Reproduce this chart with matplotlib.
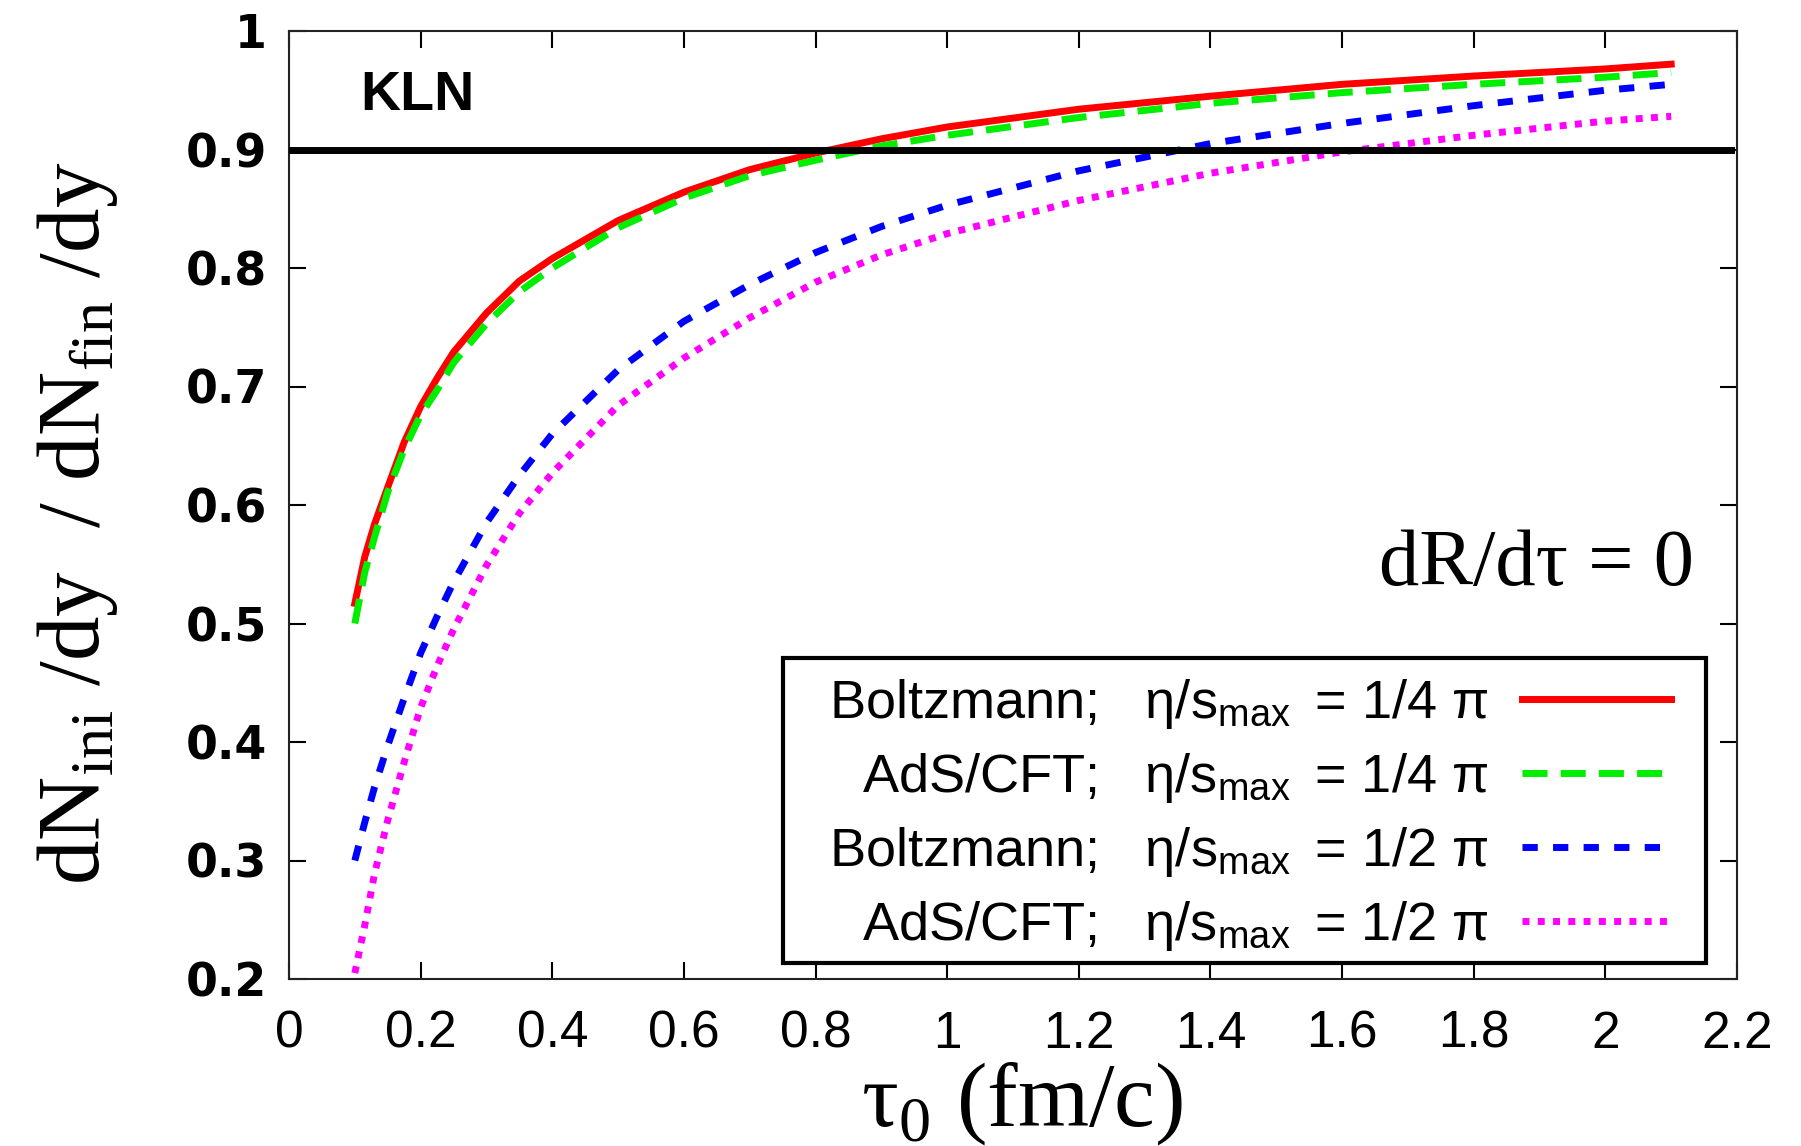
import matplotlib
matplotlib.use('Agg')
import matplotlib.pyplot as plt
from matplotlib.patches import Rectangle

# ---- data ----
tau0 = [0.1, 0.115, 0.13, 0.15, 0.175, 0.2, 0.225, 0.25, 0.3, 0.35, 0.4, 0.5,
        0.6, 0.7, 0.8, 0.9, 1.0, 1.2, 1.4, 1.6, 1.8, 2.0, 2.1]
boltz_q = [0.517, 0.556, 0.584, 0.615, 0.653, 0.683, 0.707, 0.729, 0.762, 0.789, 0.808, 0.840,
           0.864, 0.883, 0.897, 0.909, 0.919, 0.934, 0.945, 0.955, 0.962, 0.968, 0.972]
ads_q = [0.500, 0.543, 0.573, 0.611, 0.647, 0.676, 0.697, 0.720, 0.753, 0.780, 0.800, 0.834,
         0.859, 0.878, 0.891, 0.903, 0.912, 0.927, 0.939, 0.948, 0.955, 0.961, 0.965]
boltz_h = [0.300, 0.332, 0.362, 0.397, 0.437, 0.475, 0.506, 0.535, 0.585, 0.625, 0.660, 0.714,
           0.755, 0.786, 0.813, 0.835, 0.853, 0.882, 0.905, 0.922, 0.937, 0.950, 0.955]
ads_h = [0.205, 0.245, 0.289, 0.334, 0.383, 0.429, 0.464, 0.495, 0.549, 0.593, 0.627, 0.684,
         0.724, 0.758, 0.788, 0.811, 0.829, 0.857, 0.880, 0.898, 0.912, 0.924, 0.928]
kln_level = 0.9

labels = ['Boltzmann;   η/s$_{\\mathregular{max}}\\,$ = 1/4 π',
          'AdS/CFT;   η/s$_{\\mathregular{max}}\\,$ = 1/4 π',
          'Boltzmann;   η/s$_{\\mathregular{max}}\\,$ = 1/2 π',
          'AdS/CFT;   η/s$_{\\mathregular{max}}\\,$ = 1/2 π']
xticks = [0, 0.2, 0.4, 0.6, 0.8, 1, 1.2, 1.4, 1.6, 1.8, 2, 2.2]
yticks = [0.2, 0.3, 0.4, 0.5, 0.6, 0.7, 0.8, 0.9, 1]

fig = plt.figure(figsize=(18.01, 11.46), dpi=100)
ax = fig.add_axes([289/1801, 1 - 979/1146, 1448/1801, 948/1146])

lw = 5
ax.axhline(kln_level, xmin=0, xmax=0.996, color='black', lw=5, zorder=3)
ax.plot(tau0, boltz_q, color='#ff0000', lw=lw, label=labels[0])
ax.plot(tau0, ads_q, color='#00ee00', lw=lw, dashes=(3.6, 1.9), label=labels[1])
ax.plot(tau0, boltz_h, color='#0000ff', lw=lw, dashes=(2.2, 2.2), label=labels[2])
ax.plot(tau0, ads_h, color='#ff00ff', lw=lw, dashes=(1.0, 1.2), label=labels[3])

ax.set_xlim(0, 2.2)
ax.set_ylim(0.2, 1)
ax.set_xticks(xticks)
ax.set_xticklabels([f'{v:g}' for v in xticks])
ax.set_yticks(yticks)
ax.set_yticklabels([f'{v:g}' for v in yticks])
ax.tick_params(direction='in', length=12, width=1.5, top=True, right=True)
ax.tick_params(axis='x', pad=22, labelsize=37)
ax.tick_params(axis='y', pad=16, labelsize=33)
for t in ax.get_xticklabels():
    t.set_fontfamily('Liberation Sans')
for t in ax.get_yticklabels():
    t.set_fontfamily('DejaVu Sans')
    t.set_fontweight('bold')
for s in ax.spines.values():
    s.set_linewidth(1.5)
    s.set_color('#222222')

ax.set_xlabel('τ$_{\\mathregular{0}}$ (fm/c)', fontfamily='Liberation Serif', fontsize=66, va='center')
ax.xaxis.set_label_coords(0.506, -0.131)
ax.set_ylabel('dN$_{\\mathregular{ini}}$ /dy  / dN$_{\\mathregular{fin}}$ /dy',
              fontfamily='Liberation Serif', fontsize=64, va='center')
ax.yaxis.set_label_coords(-0.146, 0.481)

ax.text(0.108, 0.945, 'KLN', fontfamily='Liberation Sans', fontweight='bold',
        fontsize=40, ha='left', va='center')
ax.text(2.135, 0.549, 'dR/dτ = 0', fontfamily='Liberation Serif', fontsize=58,
        ha='right', va='center')

# legend frame drawn separately so its padding can match the original
ax.add_patch(Rectangle((0.3412, 0.0169), 0.6374, 0.3217, transform=ax.transAxes,
                       facecolor='white', edgecolor='black', lw=3, zorder=4))
leg = ax.legend(loc='lower right', bbox_to_anchor=(0.9544, 0.0275), borderaxespad=0,
                markerfirst=False, frameon=False, borderpad=0,
                handlelength=2.75, handletextpad=0.63, labelspacing=0.37,
                prop={'family': 'Liberation Sans', 'size': 39})
leg.set_zorder(5)

fig.savefig('out.png', dpi=100, facecolor='white')
